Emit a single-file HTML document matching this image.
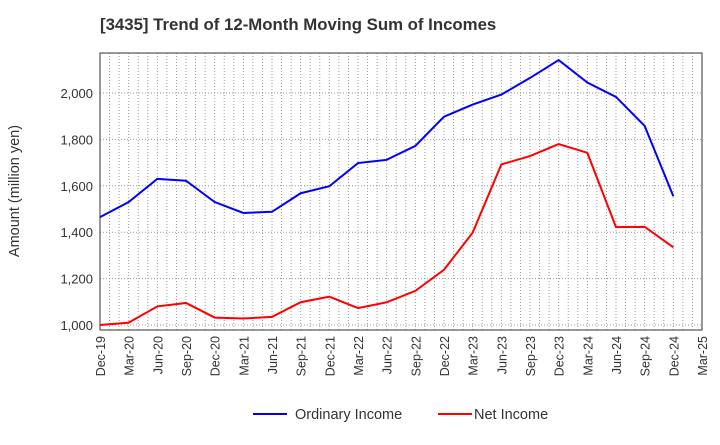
<!DOCTYPE html>
<html><head><meta charset="utf-8"><style>
body{margin:0;background:#fff;font-family:"Liberation Sans",sans-serif;}
svg text{font-family:"Liberation Sans",sans-serif;}
</style></head><body>
<svg id="c" width="720" height="440">
<text x="100" y="30" font-size="16.8" font-weight="bold" fill="#333">[3435]  Trend of 12-Month Moving Sum of Incomes</text>
<text transform="translate(19,191) rotate(-90)" text-anchor="middle" font-size="14.5" fill="#333">Amount (million yen)</text>
<g id="grid"></g><g id="axes"></g><g id="series"></g>
<g>
<line x1="253" y1="414" x2="287" y2="414" stroke="#0000ff" stroke-width="2"/>
<text x="295" y="419" font-size="14.5" fill="#333">Ordinary Income</text>
<line x1="438" y1="414" x2="472" y2="414" stroke="#ff0000" stroke-width="2"/>
<text x="474" y="419" font-size="14.5" fill="#333">Net Income</text>
</g>
</svg>
<script>
const categories=["Dec-19","Mar-20","Jun-20","Sep-20","Dec-20","Mar-21","Jun-21","Sep-21","Dec-21","Mar-22","Jun-22","Sep-22","Dec-22","Mar-23","Jun-23","Sep-23","Dec-23","Mar-24","Jun-24","Sep-24","Dec-24","Mar-25"];
const ordinaryIncome=[1465,1530,1630,1622,1530,1483,1488,1568,1598,1698,1712,1772,1898,1950,1993,2065,2142,2045,1983,1858,1555];
const netIncome=[1000,1010,1080,1095,1032,1028,1035,1098,1122,1073,1098,1147,1238,1398,1692,1728,1780,1742,1422,1423,1335];
const yTicks=[1000,1200,1400,1600,1800,2000];
const NS="http://www.w3.org/2000/svg";
const L=100,R=702,T=53,B=330;
const x=i=>L+i*(R-L)/(categories.length-1);
const y=v=>325-(v-1000)*(325-93)/1000;
function mk(tag,attrs,parent){const e=document.createElementNS(NS,tag);for(const k in attrs)e.setAttribute(k,attrs[k]);parent.appendChild(e);return e;}
const grid=document.getElementById('grid'),axes=document.getElementById('axes'),ser=document.getElementById('series');
for(let m=0;m<=(categories.length-1)*3;m++){const gx=L+m*(R-L)/((categories.length-1)*3);
const g=mk('line',{x1:gx,x2:gx,y1:T,y2:B,stroke:'#999','stroke-dasharray':'1,2','stroke-width':1},grid);

}
yTicks.forEach(v=>{const g=mk('line',{x1:L,x2:R,y1:y(v),y2:y(v),stroke:'#999','stroke-dasharray':'1,2'},grid);


const t=mk('text',{x:L-7,y:y(v)+5,'text-anchor':'end','font-size':13,fill:'#333'},axes);t.textContent=v.toLocaleString('en-US');

});
const fr=mk('rect',{x:L,y:T,width:R-L,height:B-T,fill:'none',stroke:'#333'},axes);


categories.forEach((c,i)=>{const t=mk('text',{transform:`translate(${x(i)+5},${B+6}) rotate(-90)`,'text-anchor':'end','font-size':12.5,fill:'#333'},axes);t.textContent=c;

});
function line(d,col,name){const p=mk('polyline',{points:d.map((v,i)=>x(i)+','+y(v)).join(' '),fill:'none',stroke:col,'stroke-width':2},ser);

}
line(ordinaryIncome,'#0000ff','ordinary-income-line');
line(netIncome,'#ff0000','net-income-line');
</script>
</body></html>
